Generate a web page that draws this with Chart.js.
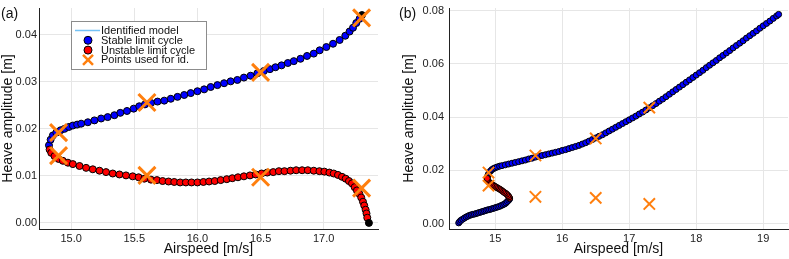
<!DOCTYPE html>
<html>
<head>
<meta charset="utf-8">
<script src="https://cdn.jsdelivr.net/npm/chart.js@4"></script>
<style>
html, body { margin: 0; padding: 0; background: #fff; }
#wrapA { position: absolute; left: 0; top: 0; width: 395px; height: 259px; }
#wrapB { position: absolute; left: 395px; top: 0; width: 394px; height: 259px; }
</style>
</head>
<body>
<div id="wrapA"><canvas id="chartA"></canvas></div>
<div id="wrapB"><canvas id="chartB"></canvas></div>
<script>
// ---- panel (a): identification range ----
const stableAx = [14.824,14.837,14.855,14.882,14.916,14.947,14.982,15.013,15.047,15.079,15.132,15.184,15.237,15.289,15.342,15.389,15.442,15.495,15.539,15.584,15.632,15.684,15.737,15.789,15.842,15.895,15.947,16.000,16.053,16.105,16.158,16.211,16.263,16.316,16.368,16.421,16.474,16.526,16.574,16.618,16.666,16.716,16.763,16.816,16.868,16.921,16.968,17.021,17.074,17.126,17.171,17.205,17.232,17.258,17.284];
const stableAy = [0.0165,0.0177,0.0186,0.0192,0.0197,0.0200,0.0204,0.0207,0.0209,0.0211,0.0214,0.0218,0.0222,0.0225,0.0229,0.0234,0.0238,0.0243,0.0248,0.0252,0.0255,0.0258,0.0260,0.0264,0.0268,0.0272,0.0276,0.0280,0.0284,0.0289,0.0293,0.0297,0.0301,0.0304,0.0309,0.0313,0.0318,0.0323,0.0327,0.0331,0.0335,0.0340,0.0344,0.0349,0.0355,0.0360,0.0367,0.0374,0.0381,0.0389,0.0398,0.0407,0.0415,0.0425,0.0434];
const unstableAx = [14.829,14.842,14.868,14.900,14.934,14.974,15.013,15.066,15.118,15.171,15.224,15.276,15.329,15.382,15.434,15.487,15.534,15.579,15.632,15.679,15.724,15.771,15.816,15.863,15.908,15.953,16.000,16.047,16.092,16.137,16.184,16.232,16.276,16.321,16.368,16.416,16.461,16.508,16.553,16.600,16.645,16.689,16.737,16.782,16.829,16.874,16.921,16.966,17.005,17.045,17.079,17.113,17.145,17.174,17.200,17.224,17.245,17.263,17.282,17.297,17.311,17.321,17.332,17.339,17.345];
const unstableAy = [0.0156,0.0149,0.0142,0.0136,0.0132,0.0128,0.0125,0.0121,0.0117,0.0114,0.0111,0.0108,0.0105,0.0103,0.0101,0.0099,0.0097,0.0094,0.0092,0.0091,0.0089,0.0088,0.0087,0.0086,0.0086,0.0086,0.0086,0.0087,0.0088,0.0089,0.0091,0.0093,0.0095,0.0097,0.0099,0.0101,0.0103,0.0105,0.0107,0.0108,0.0110,0.0110,0.0111,0.0112,0.0112,0.0112,0.0111,0.0110,0.0109,0.0107,0.0105,0.0102,0.0098,0.0094,0.0089,0.0084,0.0076,0.0069,0.0062,0.0054,0.0045,0.0037,0.0028,0.0020,0.0011];
// end points of the branches (drawn black)
const endAx = [17.303, 17.358];
const endAy = [0.0442, 0.0000];

// ---- panel (b): extrapolation ----
const stableLowBx = [14.455,14.47,14.49,14.515,14.54,14.565,14.59,14.615,14.64,14.665,14.69,14.715,14.74,14.765,14.79,14.815,14.84,14.865,14.89,14.915,14.94,14.965,14.99,15.015,15.04,15.065,15.09,15.115,15.14,15.16,15.18,15.2,15.215];
const stableLowBy = [0.0003,0.0008,0.0013,0.0017,0.0021,0.0025,0.0028,0.0031,0.0033,0.0035,0.0036,0.0038,0.0040,0.0042,0.0044,0.0046,0.0048,0.0050,0.0052,0.0053,0.0055,0.0057,0.0059,0.0061,0.0063,0.0065,0.0068,0.0071,0.0074,0.0078,0.0083,0.0088,0.0093];
const unstableBx = [15.215,15.205,15.19,15.17,15.15,15.13,15.11,15.09,15.07,15.05,15.03,15.01,14.99,14.97,14.95,14.93,14.91,14.895,14.885,14.88];
const unstableBy = [0.0096,0.0101,0.0106,0.0111,0.0115,0.0118,0.0122,0.0126,0.0129,0.0132,0.0135,0.0138,0.0141,0.0144,0.0147,0.0151,0.0155,0.0160,0.0165,0.0170];
const stableUpBx = [14.885,14.895,14.91,14.93,14.95,14.975,15.0,15.03,15.065,15.1,15.15,15.2,15.25,15.3,15.35,15.4,15.45,15.5,15.55,15.6,15.65,15.7,15.75,15.8,15.85,15.9,15.95,16.0,16.05,16.1,16.15,16.2,16.25,16.3,16.35,16.4,16.45,16.5,16.55,16.6,16.65,16.7,16.75,16.8,16.85,16.9,16.95,17.0,17.05,17.1,17.15,17.2,17.25,17.3,17.35,17.4,17.45,17.5,17.55,17.6,17.65,17.7,17.75,17.8,17.85,17.9,17.95,18.0,18.05,18.1,18.15,18.2,18.25,18.3,18.35,18.4,18.45,18.5,18.55,18.6,18.65,18.7,18.75,18.8,18.85,18.9,18.95,19.0,19.05,19.1,19.15,19.2,19.23];
const stableUpBy = [0.0176,0.0184,0.0192,0.0198,0.0203,0.0207,0.0210,0.0213,0.0216,0.0218,0.0221,0.0224,0.0227,0.0230,0.0233,0.0236,0.0239,0.0243,0.0246,0.0250,0.0253,0.0256,0.0259,0.0262,0.0265,0.0268,0.0271,0.0275,0.0278,0.0282,0.0286,0.0290,0.0294,0.0299,0.0304,0.0310,0.0316,0.0322,0.0328,0.0334,0.0341,0.0348,0.0355,0.0362,0.0369,0.0376,0.0383,0.0390,0.0397,0.0404,0.0412,0.0419,0.0427,0.0435,0.0443,0.0451,0.0460,0.0468,0.0477,0.0486,0.0495,0.0504,0.0513,0.0522,0.0531,0.0540,0.0549,0.0558,0.0567,0.0576,0.0586,0.0595,0.0604,0.0613,0.0623,0.0632,0.0641,0.0650,0.0660,0.0669,0.0678,0.0687,0.0697,0.0706,0.0715,0.0724,0.0734,0.0743,0.0752,0.0761,0.0771,0.0780,0.0786];

// measured points used for the identification (same in both panels)
const idX = [14.9, 14.9, 15.6, 15.6, 16.5, 16.5, 17.3, 17.3];
const idY = [0.0192, 0.0143, 0.0256, 0.0101, 0.0320, 0.0097, 0.0436, 0.0074];

// ticks
const xTicksA = [15.0, 15.5, 16.0, 16.5, 17.0];
const yTicksA = [0.00, 0.01, 0.02, 0.03, 0.04];
const xTicksB = [15, 16, 17, 18, 19];
const yTicksB = [0.00, 0.02, 0.04, 0.06, 0.08];

const FONT = "'Liberation Sans', Arial, sans-serif";
const BLUE_LINE = '#74c2f5';
const ORANGE = '#ff7f0e';

const pts = (xs, ys) => xs.map((x, i) => ({ x: x, y: ys[i] }));

// small in-plot legend, like the GR one
const boxLegend = {
  id: 'boxLegend',
  afterDraw(chart, args, opts) {
    if (!opts.show) return;
    const ctx = chart.ctx;
    const { x, y, w, h, rowH } = opts;
    ctx.save();
    ctx.fillStyle = '#fff';
    ctx.strokeStyle = '#8c8c8c';
    ctx.lineWidth = 1;
    ctx.fillRect(x, y, w, h);
    ctx.strokeRect(x + 0.5, y + 0.5, w, h);
    ctx.font = '11px ' + FONT;
    ctx.textBaseline = 'middle';
    const items = chart.data.datasets.filter(d => d.legend);
    items.sort((a, b) => a.legend - b.legend);
    items.forEach((d, i) => {
      const cy = y + 9.5 + i * rowH;
      const cx = x + 17;
      if (d.showLine) {
        ctx.strokeStyle = d.borderColor;
        ctx.lineWidth = 1.5;
        ctx.beginPath();
        ctx.moveTo(x + 4, cy);
        ctx.lineTo(x + 29, cy);
        ctx.stroke();
      } else if (d.pointStyle === 'crossRot') {
        ctx.strokeStyle = d.borderColor;
        ctx.lineWidth = 2.5;
        ctx.beginPath();
        ctx.moveTo(cx - 5, cy - 5); ctx.lineTo(cx + 5, cy + 5);
        ctx.moveTo(cx + 5, cy - 5); ctx.lineTo(cx - 5, cy + 5);
        ctx.stroke();
      } else {
        ctx.fillStyle = d.backgroundColor;
        ctx.strokeStyle = '#000';
        ctx.lineWidth = 1;
        ctx.beginPath();
        ctx.arc(cx, cy, 4, 0, Math.PI * 2);
        ctx.fill();
        ctx.stroke();
      }
      ctx.fillStyle = '#111';
      ctx.fillText(d.label, x + 30, cy + 0.5);
    });
    ctx.restore();
  }
};

const panelTag = {
  id: 'panelTag',
  afterDraw(chart, args, opts) {
    const ctx = chart.ctx;
    ctx.save();
    ctx.font = '14px ' + FONT;
    ctx.fillStyle = '#111';
    ctx.textBaseline = 'middle';
    ctx.fillText(opts.text, opts.x, opts.y);
    ctx.restore();
  }
};

function makeOptions(p) {
  return {
    responsive: true,
    maintainAspectRatio: false,
    animation: false,
    events: [],
    layout: { autoPadding: false, padding: { top: 8, right: p.padRight, left: 0, bottom: 0 } },
    plugins: {
      legend: { display: false },
      tooltip: { enabled: false },
      boxLegend: p.legend,
      panelTag: p.tag
    },
    scales: {
      x: {
        type: 'linear',
        min: p.xMin, max: p.xMax,
        afterFit: s => { s.height = 30; s.paddingLeft = 0; s.paddingRight = 0; },
        afterBuildTicks: s => { s.ticks = p.xTicks.map(v => ({ value: v })); },
        ticks: {
          callback: v => v.toFixed(p.xDec),
          font: { family: FONT, size: 11 }, color: '#222', padding: 3, maxRotation: 0
        },
        grid: { color: '#e6e6e6', drawTicks: false },
        border: { display: true, color: '#222', width: 1 },
        title: { display: true, text: 'Airspeed [m/s]', font: { family: FONT, size: 14 }, color: '#111', padding: { top: 0, bottom: 1 } }
      },
      y: {
        type: 'linear',
        min: p.yMin, max: p.yMax,
        afterFit: s => { s.width = p.yWidth; s.paddingTop = 0; s.paddingBottom = 0; },
        afterBuildTicks: s => { s.ticks = p.yTicks.map(v => ({ value: v })); },
        ticks: {
          callback: v => v.toFixed(2),
          font: { family: FONT, size: 11 }, color: '#222', padding: p.yTickPad
        },
        grid: { color: '#e6e6e6', drawTicks: false },
        border: { display: true, color: '#222', width: 1 },
        title: { display: true, text: 'Heave amplitude [m]', font: { family: FONT, size: 14 }, color: '#111', padding: { top: p.yTitlePad, bottom: 0 } }
      }
    }
  };
}

function dotSet(label, data, fill, r, order, legend) {
  return {
    label: label, data: data, showLine: false,
    pointStyle: 'circle', pointRadius: r, pointBorderWidth: 1,
    backgroundColor: fill, borderColor: '#000',
    pointBackgroundColor: fill, pointBorderColor: '#000',
    order: order, legend: legend
  };
}

// ---- chart (a) ----
const lineA = [].concat(
  pts(endAx.slice(1), endAy.slice(1)),
  pts(unstableAx, unstableAy).reverse(),
  pts(stableAx, stableAy),
  pts(endAx.slice(0, 1), endAy.slice(0, 1))
);

new Chart(document.getElementById('chartA'), {
  type: 'scatter',
  data: {
    datasets: [
      { label: 'Points used for id.', data: pts(idX, idY), pointStyle: 'crossRot', pointRadius: 12,
        pointBorderWidth: 3, borderColor: ORANGE, pointBorderColor: ORANGE, backgroundColor: ORANGE, order: 0, legend: 4 },
      dotSet('ends', pts(endAx, endAy), '#000', 3.5, 1, 0),
      dotSet('Unstable limit cycle', pts(unstableAx, unstableAy), '#ff0000', 3.5, 2, 3),
      dotSet('Stable limit cycle', pts(stableAx, stableAy), '#0000ff', 3.5, 3, 2),
      { label: 'Identified model', data: lineA, showLine: true, pointRadius: 0, borderColor: BLUE_LINE,
        borderWidth: 1.5, tension: 0, order: 4, legend: 1 }
    ]
  },
  options: makeOptions({
    padRight: 17, yWidth: 39, yTickPad: 2, yTitlePad: 0,
    xMin: 14.745, xMax: 17.43, yMin: -0.0013, yMax: 0.0457,
    xTicks: xTicksA, yTicks: yTicksA, xDec: 1,
    legend: { show: true, x: 71, y: 21, w: 135, h: 48, rowH: 9.8 },
    tag: { text: '(a)', x: 1, y: 14 }
  }),
  plugins: [boxLegend, panelTag]
});

// ---- chart (b) ----
const lineB = [].concat(
  pts(stableLowBx, stableLowBy),
  pts(unstableBx, unstableBy),
  pts(stableUpBx, stableUpBy)
);

new Chart(document.getElementById('chartB'), {
  type: 'scatter',
  data: {
    datasets: [
      { label: 'Points used for id.', data: pts(idX, idY), pointStyle: 'crossRot', pointRadius: 8,
        pointBorderWidth: 2, borderColor: ORANGE, pointBorderColor: ORANGE, backgroundColor: ORANGE, order: 0 },
      dotSet('Unstable limit cycle', pts(unstableBx, unstableBy), '#ff0000', 3, 2),
      dotSet('Stable limit cycle', pts(stableLowBx, stableLowBy).concat(pts(stableUpBx, stableUpBy)), '#0000ff', 3, 3),
      { label: 'Identified model', data: lineB, showLine: true, pointRadius: 0, borderColor: BLUE_LINE,
        borderWidth: 1.5, tension: 0, order: 4 }
    ]
  },
  options: makeOptions({
    padRight: 1, yWidth: 54, yTickPad: 5, yTitlePad: 6,
    xMin: 14.31, xMax: 19.37, yMin: -0.002, yMax: 0.081,
    xTicks: xTicksB, yTicks: yTicksB, xDec: 0,
    legend: { show: false },
    tag: { text: '(b)', x: 4, y: 14 }
  }),
  plugins: [boxLegend, panelTag]
});
</script>
</body>
</html>
